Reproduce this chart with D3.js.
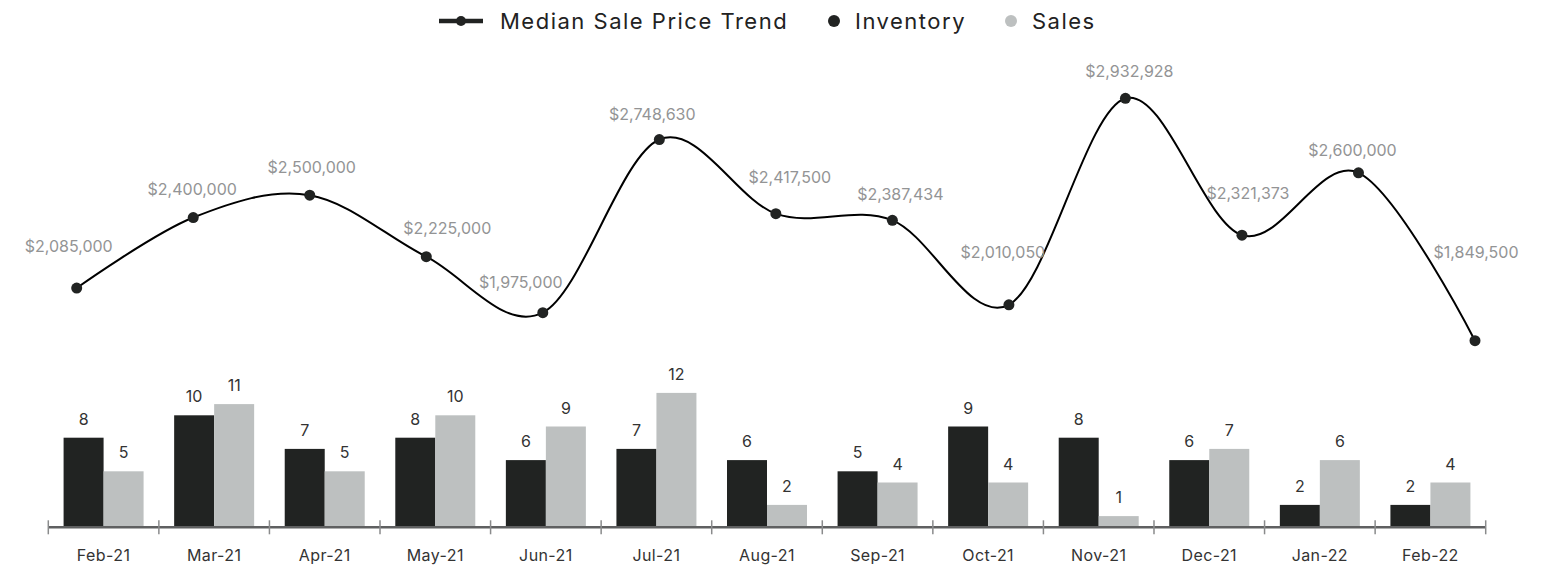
<!DOCTYPE html>
<html lang="en">

<head>
	<meta charset="UTF-8">
	<title>Median Sale Price, Inventory and Sales</title>
	<script src="https://d3js.org/d3.v7.min.js"></script>
	<style>
		body { margin: 0; background: #fff; }
		text { font-family: "Inter", "Lato", sans-serif; }
	</style>
</head>

<body>
	<div id="chart"></div>
	<script>
		// data
		const months = ["Feb-21", "Mar-21", "Apr-21", "May-21", "Jun-21", "Jul-21", "Aug-21",
			"Sep-21", "Oct-21", "Nov-21", "Dec-21", "Jan-22", "Feb-22"];
		const medianPrice = [2085000, 2400000, 2500000, 2225000, 1975000, 2748630, 2417500,
			2387434, 2010050, 2932928, 2321373, 2600000, 1849500];
		const inventory = [8, 10, 7, 8, 6, 7, 6, 5, 9, 8, 6, 2, 2];
		const sales = [5, 11, 5, 10, 9, 12, 2, 4, 4, 1, 7, 6, 4];

		// where each price label sits relative to its point (dx, dy)
		const priceLabelOffsets = [[-8, -36], [-1, -23], [2, -22], [21, -23], [-22, -25], [-7, -20],
			[14, -31], [8, -20], [-6, -47], [4, -21], [6, -36], [-6, -17], [1, -83]];

		const width = 1561, height = 567;
		const darkColor = "#212322", lightColor = "#bdc0c0";

		const svg = d3.select("#chart").append("svg")
			.attr("width", width)
			.attr("height", height);

		// ---- bars ----
		const x = d3.scaleBand()
			.domain(months)
			.range([48.3, 1485.7]);

		const groupWidth = 80;
		const xSub = d3.scaleBand()
			.domain(["inventory", "sales"])
			.range([0, groupWidth]);

		const yBar = d3.scaleLinear()
			.domain([0, 12])
			.range([527.3, 392.9]);

		const barData = months.map((m, i) => ({ month: m, inventory: inventory[i], sales: sales[i] }));
		const offset = (x.bandwidth() - groupWidth) / 2;

		const groups = svg.selectAll(".grp")
			.data(barData)
			.enter().append("g")
			.attr("class", "grp")
			.attr("transform", d => `translate(${x(d.month) + offset},0)`);

		const keys = ["inventory", "sales"];
		groups.selectAll("rect")
			.data(d => keys.map(k => ({ key: k, value: d[k] })))
			.enter().append("rect")
			.attr("x", d => xSub(d.key))
			.attr("width", xSub.bandwidth())
			.attr("y", d => yBar(d.value))
			.attr("height", d => yBar(0) - yBar(d.value))
			.attr("fill", d => d.key === "inventory" ? darkColor : lightColor);

		groups.selectAll("text")
			.data(d => keys.map(k => ({ key: k, value: d[k] })))
			.enter().append("text")
			.attr("x", d => xSub(d.key) + xSub.bandwidth() / 2)
			.attr("y", d => yBar(d.value) - 13)
			.attr("text-anchor", "middle")
			.style("font-size", "16px")
			.style("fill", "#333")
			.text(d => d.value);

		// ---- x axis ----
		const axisY = yBar(0);
		svg.append("line")
			.attr("x1", x.range()[0])
			.attr("x2", x.range()[1])
			.attr("y1", axisY)
			.attr("y2", axisY)
			.attr("stroke", "#5f6061")
			.attr("stroke-width", 2.5);

		const boundaries = months.map(m => x(m)).concat([x.range()[1]]);
		svg.selectAll(".tick-mark")
			.data(boundaries)
			.enter().append("line")
			.attr("class", "tick-mark")
			.attr("x1", d => d).attr("x2", d => d)
			.attr("y1", axisY - 7).attr("y2", axisY + 7)
			.attr("stroke", "#8a8b8c")
			.attr("stroke-width", 1.5);

		const xAxis = svg.append("g")
			.attr("transform", `translate(0,${axisY})`)
			.call(d3.axisBottom(x).tickSize(0).tickPadding(22));
		xAxis.select(".domain").remove();
		xAxis.selectAll("text")
			.style("font-size", "16px")
			.style("letter-spacing", "0.4px")
			.style("fill", "#333")
			.style("font-family", "Inter, Lato, sans-serif");

		// ---- median price line ----
		const xLine = d3.scalePoint()
			.domain(months)
			.range([76.7, 1475]);

		const yPrice = d3.scaleLinear()
			.domain([1800000, 3000000])
			.range([351.8, 83.3]);

		const lineData = months.map((m, i) => ({ month: m, price: medianPrice[i], off: priceLabelOffsets[i] }));

		const line = d3.line()
			.x(d => xLine(d.month))
			.y(d => yPrice(d.price))
			.curve(d3.curveCardinal.tension(0));

		svg.append("path")
			.datum(lineData)
			.attr("fill", "none")
			.attr("stroke", "#000")
			.attr("stroke-width", 2)
			.attr("d", line);

		svg.selectAll(".pt")
			.data(lineData)
			.enter().append("circle")
			.attr("class", "pt")
			.attr("cx", d => xLine(d.month))
			.attr("cy", d => yPrice(d.price))
			.attr("r", 5.5)
			.attr("fill", darkColor);

		const fmt = d3.format("$,");
		svg.selectAll(".price-label")
			.data(lineData)
			.enter().append("text")
			.attr("class", "price-label")
			.attr("x", d => xLine(d.month) + d.off[0])
			.attr("y", d => yPrice(d.price) + d.off[1])
			.attr("text-anchor", "middle")
			.style("font-size", "16px")
			.style("fill", "#939495")
			.text(d => fmt(d.price));

		// ---- legend ----
		const legendFont = { size: "22px", spacing: "1.5px" };
		const legend = svg.append("g").attr("transform", "translate(0,21)");
		legend.append("line")
			.attr("x1", 439).attr("x2", 483)
			.attr("y1", 0).attr("y2", 0)
			.attr("stroke", darkColor)
			.attr("stroke-width", 4.5);
		legend.append("circle")
			.attr("cx", 461).attr("cy", 0).attr("r", 5)
			.attr("fill", darkColor);
		legend.append("text")
			.attr("x", 500).attr("y", 8)
			.text("Median Sale Price Trend");

		legend.append("circle")
			.attr("cx", 834).attr("cy", 0).attr("r", 6)
			.attr("fill", darkColor);
		legend.append("text")
			.attr("x", 855).attr("y", 8)
			.text("Inventory");

		legend.append("circle")
			.attr("cx", 1011).attr("cy", 0).attr("r", 6)
			.attr("fill", lightColor);
		legend.append("text")
			.attr("x", 1032).attr("y", 8)
			.text("Sales");

		legend.selectAll("text")
			.style("font-size", legendFont.size)
			.style("letter-spacing", legendFont.spacing)
			.style("fill", "#222");
	</script>
</body>

</html>
